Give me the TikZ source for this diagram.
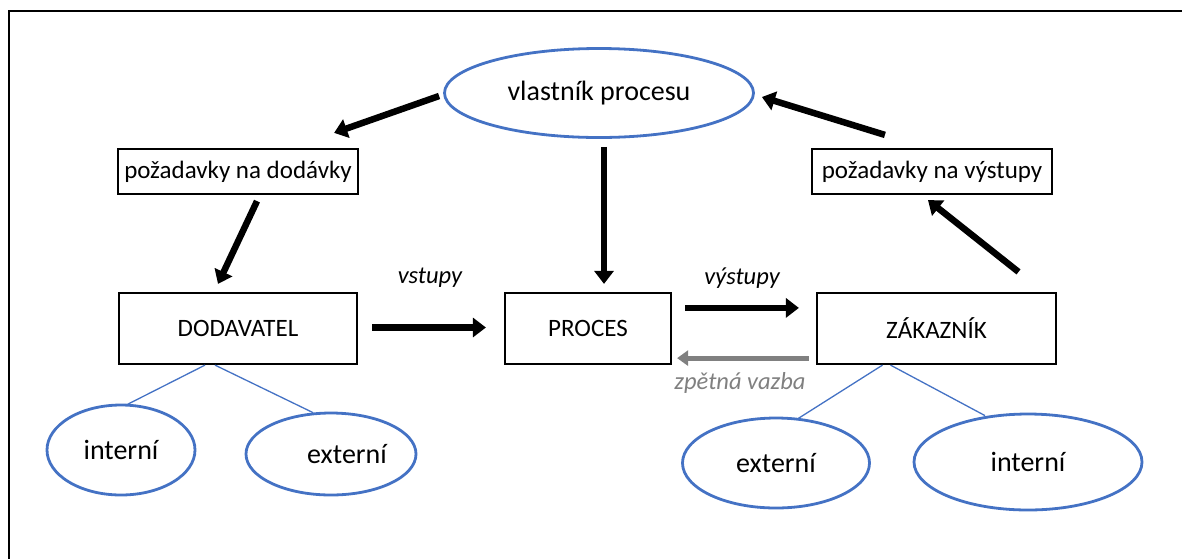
\documentclass[tikz,border=0pt]{standalone}
\usepackage{fontspec}
\setmainfont{Carlito}
\usetikzlibrary{shapes.geometric,arrows.meta,calc}
\definecolor{officeblue}{RGB}{68,114,196}
\definecolor{fbgray}{RGB}{128,128,128}
\tikzset{
  box/.style={draw=black,line width=2.2,rectangle,inner sep=0,font=\fontsize{25}{29}\selectfont},
  bigbox/.style={box,font=\fontsize{25}{29}\selectfont},
  oval/.style={draw=officeblue,line width=2.8,ellipse,inner sep=0,font=\fontsize{28}{32}\selectfont},
  flow/.style={line width=6.5,-{Triangle[length=13,width=19]}},
  feedback/.style={draw=fbgray,line width=5,-{Triangle[length=11,width=15]}},
  link/.style={draw=officeblue,line width=1.3},
  flowlabel/.style={font=\fontsize{24.5}{28}\selectfont\itshape},
}
\begin{document}
\begin{tikzpicture}[x=1pt,y=-1pt]
\useasboundingbox (0,0) rectangle (1182,558);
\clip (0,0) rectangle (1182,558);
% outer frame
\draw[line width=2.8] (9,600) -- (9,11) -- (1200,11);

% nodes
\node[oval,minimum width=309,minimum height=89] (own) at (599,93) {vlastník procesu};
\node[box,minimum width=240,minimum height=45] (reqIn) at (238,171.5) {požadavky na dodávky};
\node[box,minimum width=240,minimum height=45] (reqOut) at (932,171.5) {požadavky na výstupy};
\node[bigbox,minimum width=238,minimum height=71] (sup) at (238,328.5) {DODAVATEL};
\node[bigbox,minimum width=166,minimum height=71] (proc) at (588,328.5) {PROCES};
\node[bigbox,minimum width=239,minimum height=71] (cus) at (936.5,328.5) {ZÁKAZNÍK};
\node[oval,minimum width=148,minimum height=90] (intL) at (121,450) {interní};
\node[oval,minimum width=170,minimum height=82,
      label={[font=\fontsize{28}{32}\selectfont,xshift=16]center:externí}] (extL) at (331,454) {};
\node[oval,minimum width=187,minimum height=90] (extR) at (776,463) {externí};
\node[oval,minimum width=228,minimum height=96] (intR) at (1028,462) {interní};

% main flow arrows
\draw[flow] ($(own.west)+(-4,3)$) -- ($(reqIn.north east)+(-25,-15)$);
\draw[flow] ($(reqIn.south)+(19,6)$) -- ($(sup.north)+(-20,-8)$);
\draw[flow] ($(own.south)+(5,8)$) -- ($(proc.north)+(16,-8)$);
\draw[flow] ($(reqOut.north west)+(74,-13)$) -- ($(own.east)+(7,4)$);
\draw[flow] ($(cus.north)+(82,-20)$) -- ($(reqOut.south)+(-4,5)$);
\draw[flow] ($(sup.east)+(14,-1)$) -- ($(proc.west)+(-18,-1)$);
\draw[flow] ($(proc.north east)+(13,16)$) -- ($(cus.north west)+(-17,16)$);
\draw[feedback] ($(cus.south west)+(-7,-7)$) -- ($(proc.south east)+(5,-7)$);

% flow labels
\node[flowlabel] (inLbl) at (430,278) {vstupy};
\node[flowlabel] (outLbl) at (742,278) {výstupy};
\node[flowlabel,text=fbgray] (fbLbl) at (740,383) {zpětná vazba};

% classification links
\draw[link] ($(sup.south)+(-33,0)$) -- ($(intL.north)+(6,1)$);
\draw[link] ($(sup.south)+(-23,0)$) -- ($(extL.north)+(-18,1)$);
\draw[link] ($(cus.south)+(-54,0)$) -- ($(extR.north)+(22,2)$);
\draw[link] ($(cus.south)+(-46,0)$) -- ($(intR.north)+(-43,3)$);
\end{tikzpicture}
\end{document}
